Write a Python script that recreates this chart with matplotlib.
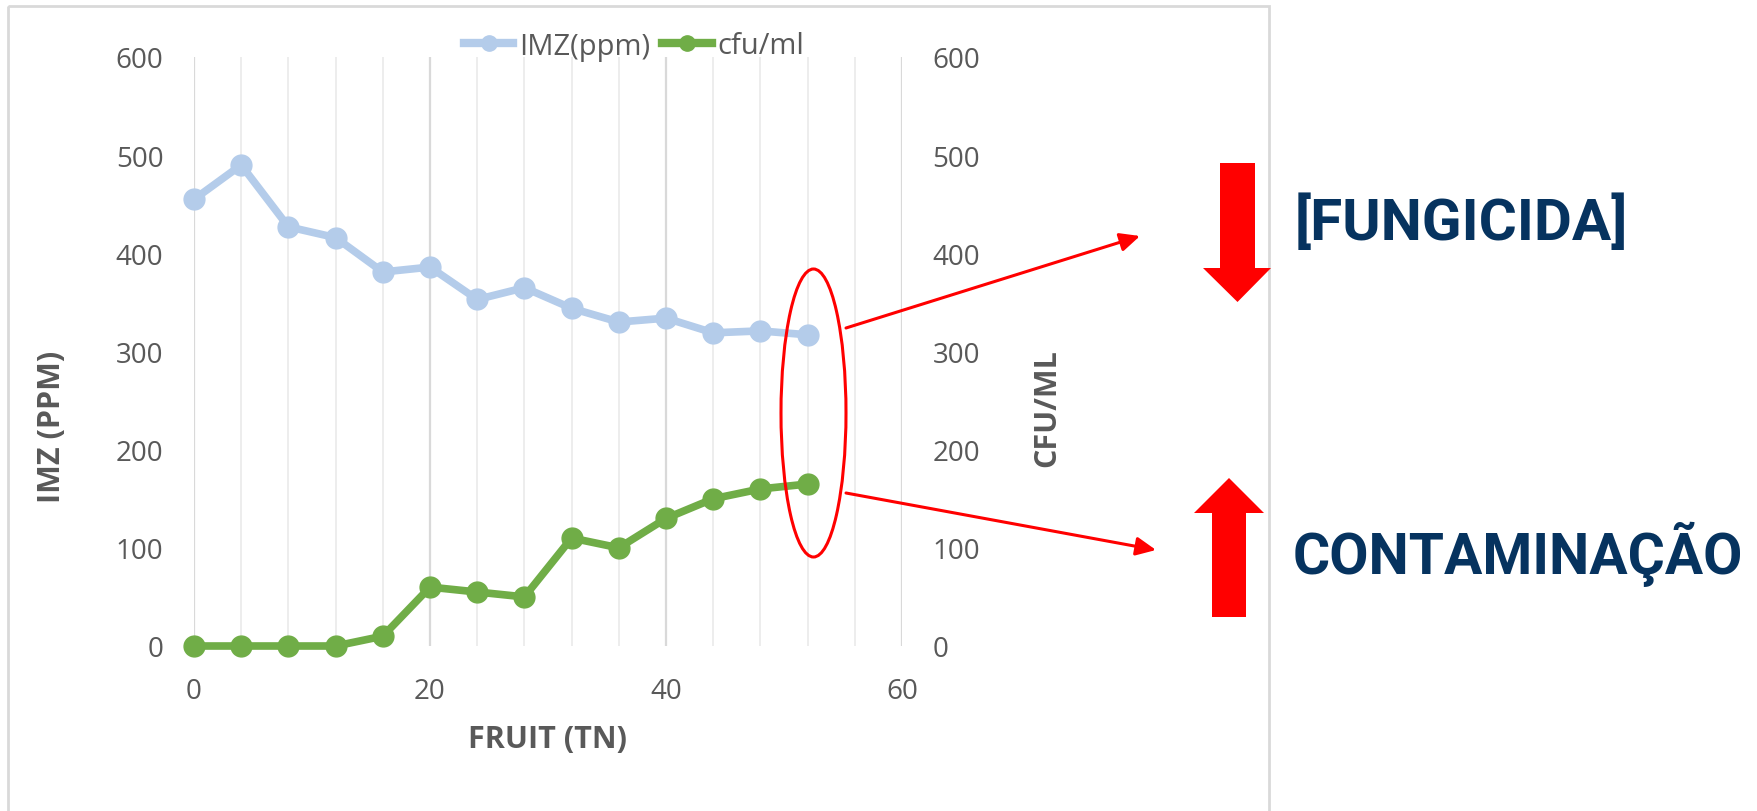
import matplotlib
matplotlib.use("Agg")
import matplotlib.pyplot as plt
import numpy as np
from matplotlib.patches import Ellipse, Polygon, FancyArrowPatch, Rectangle
from matplotlib.lines import Line2D
from matplotlib.ticker import MultipleLocator

# fruit processed (tn) and the two measured series
fruit_tn = [0, 4, 8, 12, 16, 20, 24, 28, 32, 36, 40, 44, 48, 52]
imz_ppm = [455, 490, 427, 416, 381, 386, 353, 365, 344, 330, 334, 319, 321, 317]
cfu_ml = [0, 0, 0, 0, 10, 60, 55, 50, 110, 100, 130, 150, 160, 165]

y_ticks = [0, 100, 200, 300, 400, 500, 600]
x_ticks = [0, 20, 40, 60]

BLUE = "#B4CCEA"
GREEN = "#70AD47"
GREY_TXT = "#595959"
RED = "#FF0000"
NAVY = "#06335F"

W, H = 1758, 812
fig = plt.figure(figsize=(W / 100, H / 100), dpi=100)

tick_font = dict(family="Open Sans", size=20, color=GREY_TXT)
title_font = dict(family="Open Sans", size=22, weight="bold", color=GREY_TXT)

ax = fig.add_axes([194 / W, 1 - 647 / H, (902 - 194) / W, (647 - 58) / H])
ax2 = ax.twinx()

ax.plot(fruit_tn, imz_ppm, color=BLUE, lw=5.5, marker="o", ms=15, clip_on=False, zorder=3)
ax2.plot(fruit_tn, cfu_ml, color=GREEN, lw=5.5, marker="o", ms=15, clip_on=False, zorder=3)

ax.set_xlim(0, 60)
ax.set_ylim(0, 600)
ax2.set_ylim(0, 600)
ax.set_xticks(x_ticks)
ax.xaxis.set_minor_locator(MultipleLocator(4))
ax.set_yticks(y_ticks)
ax2.set_yticks(y_ticks)

ax.grid(axis="x", which="major", color="#D9D9D9", lw=1.6, zorder=0)
ax.grid(axis="x", which="minor", color="#EDEDED", lw=1.4, zorder=0)
ax.set_axisbelow(True)

for a in (ax, ax2):
    for s in a.spines.values():
        s.set_visible(False)
    a.tick_params(length=0, which="both", pad=22)
    for lab in a.get_xticklabels() + a.get_yticklabels():
        lab.set(**tick_font)

ax.set_xlabel("FRUIT (TN)", labelpad=14, **title_font)
ax.set_ylabel("IMZ (PPM)", **title_font)
ax2.set_ylabel("CFU/ML", **title_font)
# axis titles sit a bit below the middle of the plot
ax.yaxis.set_label_coords(-0.18, 0.374)
ax2.yaxis.set_label_coords(1.184, 0.405)

handles = [
    Line2D([], [], color=BLUE, lw=6, marker="o", ms=11),
    Line2D([], [], color=GREEN, lw=6, marker="o", ms=11),
]
fig.legend(handles, ["IMZ(ppm)", "cfu/ml"], loc="center", bbox_to_anchor=(634 / W, 1 - 47 / H),
           ncol=2, frameon=False, handlelength=1.7, handletextpad=0.2, columnspacing=0.4,
           prop=dict(family="Open Sans", size=21))
for t in fig.legends[0].get_texts():
    t.set_color(GREY_TXT)

# overlay in pixel units for the callouts
ov = fig.add_axes([0, 0, 1, 1], zorder=10)
ov.set_xlim(0, W)
ov.set_ylim(H, 0)
ov.axis("off")

ov.add_patch(Rectangle((8, 7), 1269 - 8, H, fill=False, edgecolor="#D9D9D9", lw=2))

ov.add_patch(Ellipse((813.5, 414), 65, 288, fill=False, edgecolor=RED, lw=2.2))

for (x0, y0), (x1, y1) in [((846, 329), (1140, 237)), ((846, 494), (1156, 551))]:
    ov.add_patch(FancyArrowPatch((x0, y0), (x1, y1), arrowstyle="-|>,head_length=0.6,head_width=0.28",
                                 mutation_scale=20, color=RED, lw=2.2, shrinkA=0, shrinkB=0))

# block arrows
ov.add_patch(Polygon([(1220, 164), (1255, 164), (1255, 269), (1271, 269), (1237.5, 303),
                      (1203, 269), (1220, 269)], closed=True, color=RED, lw=0))
ov.add_patch(Polygon([(1229, 479), (1264, 514), (1246, 514), (1246, 618), (1212, 618),
                      (1212, 514), (1194, 514)], closed=True, color=RED, lw=0))

ov.text(1295, 240, "[FUNGICIDA]", family="Roboto", weight="bold", size=42, color=NAVY,
        ha="left", va="baseline")
ov.text(1293, 574, "CONTAMINAÇÃO", family="Roboto", weight="bold", size=41, color=NAVY,
        ha="left", va="baseline")

fig.savefig("out.png", dpi=100)
